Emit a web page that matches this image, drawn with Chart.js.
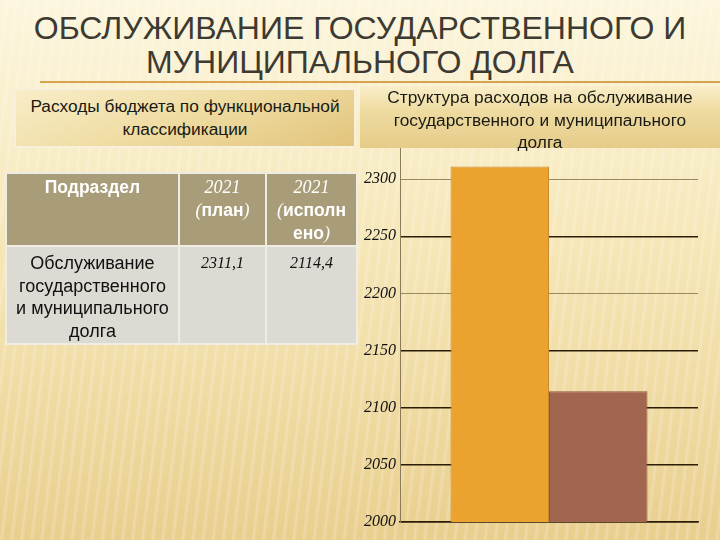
<!DOCTYPE html>
<html>
<head>
<meta charset="utf-8">
<script src="https://cdn.jsdelivr.net/npm/chart.js@4/dist/chart.umd.min.js"></script>
<style>
html,body{margin:0;padding:0}
body{
width:720px;height:540px;overflow:hidden;position:relative;
font-family:"Liberation Sans",Arial,sans-serif;
background:
repeating-linear-gradient(97deg,rgba(255,255,255,0) 0px,rgba(255,255,255,0) 5px,rgba(255,255,255,.22) 7px,rgba(255,255,255,0) 10px),
linear-gradient(180deg,#fcf6de 0%,#f6e7b8 45%,#e9cf8e 100%);
}
#title{position:absolute;left:0;top:11px;width:720px;text-align:center;
font-size:32px;line-height:34px;color:#3d3a32;}
#rule{position:absolute;left:40px;top:81px;width:680px;height:2px;background:#d8a24e}
.box{position:absolute;text-align:center;font-size:17.3px;color:#1a1a14;
background:linear-gradient(160deg,#f8edc8 0%,#efdca2 50%,#e2c47c 100%);}
#boxL{left:14px;top:88px;width:338px;height:56px;border:2px solid #f7f0dc;line-height:23px;
display:flex;align-items:center;justify-content:center}
#boxR{left:360px;top:86px;width:360px;height:62px;line-height:22.5px;
background:linear-gradient(180deg,rgba(248,236,196,.6) 0%,#eedba0 40%,#e6cc8a 100%)}
table{position:absolute;left:5px;top:172px;border-collapse:collapse;width:353px}
td{border:2px solid #efece4;vertical-align:top;text-align:center;padding:2px 4px 0 4px;white-space:nowrap}
tr.h td{background:#a99c78;color:#fff;font-weight:bold;font-size:17.5px;line-height:23px;height:67px}
tr.b td{background:#dcdad2;color:#111;font-size:18px;line-height:22.5px;height:91px;padding-top:5px}
.s{font-family:"Liberation Serif","Times New Roman",serif;font-style:italic;font-weight:normal}
tr.h .s{font-size:18px}
#wrap{position:absolute;left:350px;top:100px;width:370px;height:440px}
</style>
</head>
<body>
<div id="title">ОБСЛУЖИВАНИЕ ГОСУДАРСТВЕННОГО И<br>МУНИЦИПАЛЬНОГО ДОЛГА</div>
<div id="rule"></div>
<div id="wrap"><canvas id="c"></canvas></div>
<div class="box" id="boxL"><div>Расходы бюджета по функциональной<br>классификации</div></div>
<div class="box" id="boxR">Структура расходов на обслуживание<br>государственного и муниципального<br>долга</div>
<table>
<tr class="h">
<td style="width:163px">Подраздел</td>
<td style="width:77px"><span class="s">2021</span><br><span class="s">(</span>план<span class="s">)</span></td>
<td><span class="s">2021</span><br><span class="s">(</span>исполн<br>ено<span class="s">)</span></td>
</tr>
<tr class="b">
<td>Обслуживание<br>государственного<br>и муниципального<br>долга</td>
<td class="s" style="font-size:16px">2311,1</td>
<td class="s" style="font-size:16px">2114,4</td>
</tr>
</table>
<script>
/* DATA */
const categories=["Обслуживание государственного и муниципального долга"];
const planValues=[2311.1];
const factValues=[2114.4];
const seriesNames=["2021 (план)","2021 (исполнено)"];
const yMin=2000,yMax=2350,yStep=50;

/* CHART */
new Chart(document.getElementById("c"),{
type:"bar",
data:{
labels:categories,
datasets:[{
label:seriesNames[0],
data:planValues,
backgroundColor:"#eba22f",
borderColor:"#c98a2c",
borderWidth:1
},{
label:seriesNames[1],
data:factValues,
backgroundColor:"#a2654f",
borderColor:"#8e5542",
borderWidth:1
}]
},
options:{
responsive:true,
maintainAspectRatio:false,
animation:false,
layout:{padding:{top:22,right:22,bottom:10,left:0}},
plugins:{legend:{display:false},tooltip:{enabled:false}},
datasets:{bar:{categoryPercentage:0.661,barPercentage:1}},
scales:{
x:{
display:true,
z:1,
grid:{display:false},
ticks:{display:false},
border:{color:"#2b1d05",width:1.5}
},
y:{
min:yMin,max:yMax,
afterFit:s=>{s.width=50},
ticks:{stepSize:yStep,padding:4,color:"#111",
callback:v=>String(v),
font:{family:"Liberation Serif",style:"italic",size:16}},
grid:{drawTicks:false,
color:c=>(c.tick&&(c.tick.value===2300||c.tick.value===2200))?"#9a8862":"#2b1d05",
lineWidth:c=>(c.tick&&(c.tick.value===2300||c.tick.value===2200))?1:1.5},
border:{color:"#8c7b58",width:1}
}
}
}
});
</script>
</body>
</html>
